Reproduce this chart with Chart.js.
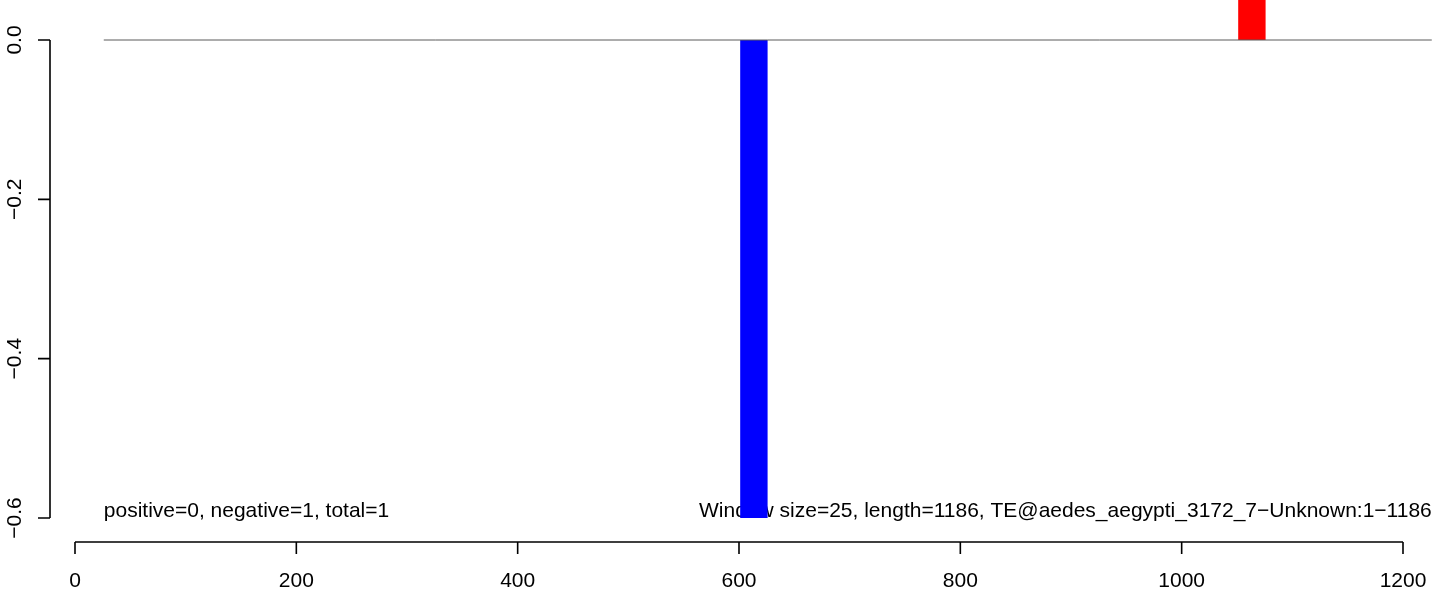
<!DOCTYPE html>
<html>
<head>
<meta charset="utf-8">
<script src="https://cdn.jsdelivr.net/npm/chart.js@4.4.1/dist/chart.umd.min.js"></script>
<style>
    body { margin: 0; background: #ffffff; }
    #wrap { width: 1444px; height: 592px; }
</style>
</head>
<body>
<div id="wrap"><canvas id="windowChart" width="1444" height="592"></canvas></div>
<script>
    // Data
    const winStarts = [601, 1051];
    const winValues = [-0.6, 0.6];
    const winColors = ["#0000ff", "#ff0000"];
    const winSize = 25;
    const zeroLineX = [26, 1226];
    const xTicks = [0, 200, 400, 600, 800, 1000, 1200];
    const yTicks = [0, -0.2, -0.4, -0.6];
    const yTickLabels = ["0.0", "\u22120.2", "\u22120.4", "\u22120.6"];
    const leftNote = "positive=0, negative=1, total=1";
    const rightNote = "Window size=25, length=1186, TE@aedes_aegypti_3172_7\u2212Unknown:1\u22121186";

    var FONT = '21px "Liberation Sans", Arial, Helvetica, sans-serif';

    // each window -> closed rectangle filled to y = 0
    var datasets = [{
        data: zeroLineX.map(function (x) { return {x: x, y: 0}; }),
        borderColor: "#5a5a5a",
        borderWidth: 1,
        pointRadius: 0,
        fill: false,
        order: 0
    }];
    winStarts.forEach(function (s, i) {
        var v = winValues[i];
        datasets.push({
            data: [{x: s, y: 0}, {x: s, y: v}, {x: s + winSize, y: v}, {x: s + winSize, y: 0}],
            borderWidth: 0,
            borderColor: winColors[i],
            backgroundColor: winColors[i],
            pointRadius: 0,
            fill: "origin",
            tension: 0,
            order: 1
        });
    });

    // notes go under the bars
    var rNotes = {
        id: "rNotes",
        beforeDatasetsDraw: function (chart) {
            var ctx = chart.ctx;
            var xs = chart.scales.x, ys = chart.scales.y;
            ctx.save();
            ctx.fillStyle = "#000000";
            ctx.font = FONT;
            ctx.textBaseline = "alphabetic";
            var ny = ys.getPixelForValue(yTicks[yTicks.length - 1]) - 1;
            ctx.textAlign = "left";
            ctx.fillText(leftNote, xs.getPixelForValue(zeroLineX[0]), ny);
            ctx.textAlign = "right";
            ctx.fillText(rightNote, xs.getPixelForValue(zeroLineX[1]), ny);
            ctx.restore();
        }
    };

    // R style axes, detached from the plot region
    var rAxes = {
        id: "rAxes",
        afterDraw: function (chart) {
            var ctx = chart.ctx;
            var xs = chart.scales.x, ys = chart.scales.y;
            ctx.save();
            ctx.strokeStyle = "#000000";
            ctx.fillStyle = "#000000";
            ctx.lineWidth = 1.6;
            ctx.font = FONT;

            // x axis
            var axY = 542;
            var x0 = xs.getPixelForValue(xTicks[0]);
            var x1 = xs.getPixelForValue(xTicks[xTicks.length - 1]);
            ctx.beginPath();
            ctx.moveTo(x0, axY); ctx.lineTo(x1, axY);
            xTicks.forEach(function (t) {
                var px = xs.getPixelForValue(t);
                ctx.moveTo(px, axY); ctx.lineTo(px, axY + 12);
            });
            ctx.stroke();
            ctx.textAlign = "center";
            ctx.textBaseline = "alphabetic";
            xTicks.forEach(function (t) {
                ctx.fillText(String(t), xs.getPixelForValue(t), 587);
            });

            // y axis
            var axX = 50;
            var y0 = ys.getPixelForValue(yTicks[0]);
            var y1 = ys.getPixelForValue(yTicks[yTicks.length - 1]);
            ctx.beginPath();
            ctx.moveTo(axX, y0); ctx.lineTo(axX, y1);
            yTicks.forEach(function (t) {
                var py = ys.getPixelForValue(t);
                ctx.moveTo(axX, py); ctx.lineTo(axX - 12, py);
            });
            ctx.stroke();
            yTicks.forEach(function (t, i) {
                ctx.save();
                ctx.translate(21, ys.getPixelForValue(t));
                ctx.rotate(-Math.PI / 2);
                ctx.textAlign = "center";
                ctx.fillText(yTickLabels[i], 0, 0);
                ctx.restore();
            });
            ctx.restore();
        }
    };

    var ctx1 = document.getElementById("windowChart").getContext("2d");
    var myChart1 = new Chart(ctx1, {
        type: "line",
        data: { datasets: datasets },
        options: {
            responsive: false,
            animation: false,
            devicePixelRatio: 1,
            layout: { padding: 0 },
            plugins: {
                legend: { display: false },
                tooltip: { enabled: false }
            },
            scales: {
                x: { type: "linear", display: false, min: -67.77, max: 1237.05 },
                y: { type: "linear", display: false, min: -0.69289, max: 0.05021 }
            }
        },
        plugins: [rNotes, rAxes]
    });
</script>
</body>
</html>
